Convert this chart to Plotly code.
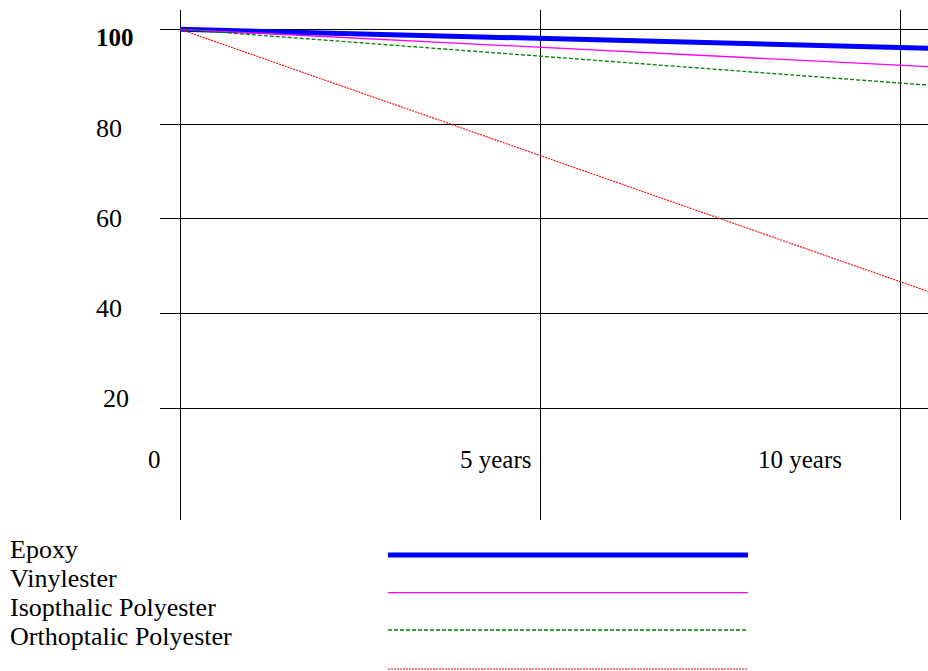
import plotly.graph_objects as go

# ---------------- data ----------------
years = [0, 5, 10, 10.4]
epoxy = [100, 98.2, 96.3, 96.0]
vinylester = [100, 96.2, 92.4, 92.1]
isophthalic = [100, 94.3, 88.6, 88.2]
orthophthalic = [100, 73.4, 46.7, 44.6]

series_names = ["Epoxy", "Vinylester", "Isopthalic Polyester", "Orthoptalic Polyester"]
series_values = [epoxy, vinylester, isophthalic, orthophthalic]

y_tick_values = [100, 80, 60, 40, 20]
y_tick_labels = ["100", "80", "60", "40", "20"]
x_tick_values = [0, 5, 10]
x_tick_labels = ["0", "5 years", "10 years"]

# ---------------- styles ----------------
FONT = "Liberation Serif, Times New Roman, serif"
W, H = 928, 671
L, R, T, B = 160, 0, 10, 151
styles = [
    dict(color="#0000FF", width=5, dash="solid"),
    dict(color="#FF00FF", width=1.3, dash="solid"),
    dict(color="#008000", width=1.3, dash="4px,2px"),
    dict(color="#FF0000", width=1.1, dash="2px,1px"),
]

# axis ranges (plot area 160..928 x 10..520 px)
px_per_year = 72.0
px_per_unit = 4.7375
x_range = [-20 / px_per_year, 748 / px_per_year]
y_range = [100 - (520 - 29.3) / px_per_unit, 100 + (29.3 - 10) / px_per_unit]

plot_h = H - T - B
plot_w = W - L - R
PAD = 2  # annotation inner padding in px


def px_to_paper_x(px):
    return (px - L) / plot_w


def px_to_paper_y(py):
    return (H - B - py) / plot_h


fig = go.Figure()
for name, vals, st in zip(series_names, series_values, styles):
    fig.add_trace(go.Scatter(
        x=years, y=vals, mode="lines", name=name,
        line=dict(color=st["color"], width=st["width"], dash=st["dash"]),
        cliponaxis=True,
    ))

fig.update_layout(
    width=W, height=H,
    margin=dict(l=L, r=R, t=T, b=B, pad=0),
    plot_bgcolor="white", paper_bgcolor="white",
    showlegend=False,
    font=dict(family=FONT, size=26, color="black"),
    xaxis=dict(range=x_range, tickvals=x_tick_values, showticklabels=False,
               showgrid=True, gridcolor="black", gridwidth=1,
               zeroline=False, showline=False, ticks=""),
    yaxis=dict(range=y_range, tickvals=y_tick_values, showticklabels=False,
               showgrid=True, gridcolor="black", gridwidth=1,
               zeroline=False, showline=False, ticks=""),
)

# y tick labels
y_label_shift = [-8, -4, 0, 5, 10]
y_label_x = [96, 96, 96, 96, 103]
for v, lab, sh, lx in zip(y_tick_values, y_tick_labels, y_label_shift, y_label_x):
    fig.add_annotation(
        x=px_to_paper_x(lx - PAD), xref="paper", y=v, yref="y", yshift=sh,
        text=f"<b>{lab}</b>" if lab == "100" else lab,
        showarrow=False, xanchor="left", yanchor="middle",
        font=dict(family=FONT, size=25 if lab == "100" else 26, color="black"),
    )

# x tick labels
x_label_shift = [-19, -8, -58]
for v, lab, sh in zip(x_tick_values, x_tick_labels, x_label_shift):
    fig.add_annotation(
        x=v, xref="x", xshift=sh + PAD, y=px_to_paper_y(459), yref="paper",
        text=lab, showarrow=False, xanchor="right", yanchor="middle",
        font=dict(family=FONT, size=25, color="black"),
    )

# legend: names on the left, samples in the middle
legend_text_y = [549, 578, 607, 636]
legend_line_y = [555, 592.7, 630, 669]
for name, st, ty, ly in zip(series_names, styles, legend_text_y, legend_line_y):
    fig.add_annotation(
        x=px_to_paper_x(10 - PAD), xref="paper", y=px_to_paper_y(ty), yref="paper",
        text=name, showarrow=False, xanchor="left", yanchor="middle",
        font=dict(family=FONT, size=26, color="black"),
    )
    fig.add_shape(
        type="line", xref="paper", yref="paper",
        x0=px_to_paper_x(388), x1=px_to_paper_x(748),
        y0=px_to_paper_y(ly), y1=px_to_paper_y(ly),
        line=dict(color=st["color"], width=st["width"], dash=st["dash"]),
    )

fig.write_html("out.html", config={"displayModeBar": False},
               post_script="document.body.style.margin='0';")
